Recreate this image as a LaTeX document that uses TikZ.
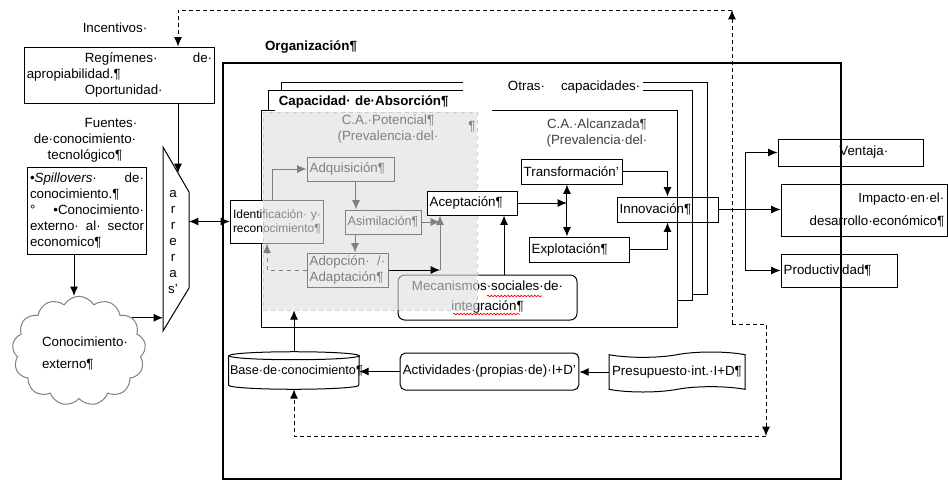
\documentclass[tikz,border=0pt]{standalone}
\usepackage{fontspec}
\setmainfont{Liberation Sans}
\usetikzlibrary{arrows.meta,shapes.symbols,decorations.pathmorphing}

\begin{document}
\begin{tikzpicture}[x=0.75pt, y=-0.75pt,
    every node/.style={font=\fontsize{10}{12}\selectfont, inner sep=2pt},
    caja/.style={draw, line width=.75pt},
    cajagris/.style={draw=gray, text=gray, line width=.75pt},
    flecha/.style={line width=.75pt, -{Latex[length=7pt,width=6pt]}},
    flechagris/.style={flecha, color=gray},
    dobleflecha/.style={line width=.75pt, {Latex[length=7pt,width=6pt]}-{Latex[length=7pt,width=6pt]}},
    subrayado/.style={red, line width=.5pt, decorate, decoration={snake, amplitude=.6pt, segment length=2.5pt}},
    punteada/.style={line width=.75pt, dash pattern=on 3pt off 2.25pt}]
    \useasboundingbox (0,0) rectangle (948,482);

    \node[caja, line width=1.5pt, minimum width=463.5pt, minimum height=312pt] (org) at (532,271) {};
    \node[font=\fontsize{10}{12}\selectfont\bfseries] (orgtxt) at (311,47) {Organización¶};

    \node[caja, fill=white, minimum width=319.5pt, minimum height=159pt] (hoja3) at (494,188) {};
    \node[caja, fill=white, minimum width=318pt, minimum height=157.5pt] (hoja2) at (480,195) {};
    \node[caja, fill=white, minimum width=312pt, minimum height=162.75pt] (hoja1) at (469,218.5) {};
    \node[fill=white, text width=131pt, align=right, inner ysep=1pt] (otras) at (553,87) {Otras·\hspace{12pt}capacidades·};
    \node[fill=white, font=\fontsize{10}{12}\selectfont\bfseries, text width=157pt, align=left, inner xsep=3pt, inner ysep=0pt, minimum height=15pt] (capacidad) at (383.5,102) {Capacidad· de·Absorción¶};

    \node[caja, fill=white, font=\fontsize{9}{10.5}\selectfont, text width=66pt, align=left, minimum height=32.25pt] (ident) at (277,221.5) {Identificación·\hfill y·\\reconocimiento¶};
    \node[caja, rounded corners=5pt, align=center, minimum width=134.25pt, minimum height=33.75pt] (mec) at (487.5,297.5) {Mecanismos·sociales·de·\\[3pt]integración¶};

    \node[draw=gray!40, dashed, fill=gray!25, fill opacity=.6, minimum width=160.5pt, minimum height=148.5pt] (potencial) at (370,211) {};
    \node[text=gray, align=center] (potencialtxt) at (388,129.5) {C.A.·Potencial¶\\(Prevalencia·del·};
    \node[text=gray] (marca) at (472,127) {¶};
    \draw[subrayado] (487,296) -- (542,296);
    \draw[subrayado] (453,314) -- (520,314);

    \node[cajagris, text width=61.25pt, align=left, minimum height=18pt] (adq) at (350.5,169) {Adquisición¶};
    \node[cajagris, font=\fontsize{9.5}{12}\selectfont, text width=53pt, align=left, minimum height=18pt] (asim) at (383,222) {Asimilación¶};
    \node[cajagris, text width=56.75pt, align=left, minimum height=25.5pt] (adop) at (347.5,270) {Adopción·\hfill/·\\Adaptación¶};

    \node[caja, fill=white, text width=63.5pt, align=left, minimum height=18pt] (acep) at (472,203) {Aceptación¶};
    \node[caja, text width=71.75pt, align=left, minimum height=18.75pt] (transf) at (571.5,171.5) {Transformación'};
    \node[caja, text width=71pt, align=left, minimum height=18.75pt] (explo) at (579,249.5) {Explotación¶};
    \node[caja, text width=71.75pt, align=left, minimum height=18.75pt] (innov) at (667.5,209.5) {Innovación¶};
    \node[text=black!75, align=center] (alcanzada) at (597,133) {C.A.·Alcanzada¶\\(Prevalencia·del·};

    \node (incentivos) at (115,28) {Incentivos·};
    \node[caja, text width=139pt, align=left, minimum height=42pt] (regimenes) at (119.5,75) {\hspace*{43.5pt}Regímenes·\hfill de·\\apropiabilidad.¶\\\hspace*{43.5pt}Oportunidad·};
    \node[align=center] (fuentes) at (85,140) {\hspace*{39pt}Fuentes·\\de·conocimiento·\\tecnológico¶};
    \node[caja, text width=85.5pt, align=left, minimum height=65.25pt] (spill) at (87,210.5) {•\textit{Spillovers}·\hfill de·\\conocimiento.¶\\°\hfill •Conocimiento·\\externo·\hfill al·\hfill sector\\economico¶};
    \node[cloud, draw=gray, line width=.75pt, cloud puffs=13, cloud puff arc=120, minimum width=100pt, minimum height=82pt] (nube) at (79,351) {};
    \node[align=left] (nubetxt) at (85,354) {Conocimiento·\\[4.5pt]externo¶};

    \draw[line width=.75pt] (163,147) -- (189,192) -- (189,288) -- (163,331) -- cycle;
    \coordinate (barN) at (178,173);
    \coordinate (barE) at (189,221.5);
    \coordinate (barW) at (163,240);
    \node[align=center] (barreras) at (173,242) {a\\r\\r\\e\\r\\a\\s'};

    \node[caja, text width=104.75pt, align=left, minimum height=20.25pt] (ventaja) at (850.5,152.5) {\hspace*{44pt}Ventaja·};
    \node[caja, text width=120.5pt, align=right, minimum height=39pt] (impacto) at (864,210) {Impacto·en·el·\\[5pt]desarrollo·económico¶};
    \node[caja, text width=83pt, align=left, minimum height=24.75pt] (produc) at (839,270.5) {Productividad¶};

    \node[font=\fontsize{9.5}{12}\selectfont, text width=96pt, align=left, inner xsep=.75pt, minimum height=21.75pt] (base) at (294,370.5) {Base·de·conocimiento¶};
    \draw[line width=.75pt] (base.north west) -- (base.south west) arc[start angle=180, end angle=360, x radius=48.75pt, y radius=3pt] -- (base.north east);
    \draw[line width=.75pt] (base.north) ellipse[x radius=48.75pt, y radius=3pt];
    \node[caja, rounded corners=4pt, text width=130pt, align=left, minimum height=27.75pt] (activ) at (489.5,371.5) {Actividades·(propias·de)·I+D'};
    \node[caja, tape, tape bend height=4pt, minimum width=102pt, minimum height=30pt] (presu) at (677,372) {Presupuesto·int.·I+D¶};

    \coordinate (dA) at (732,324);
    \coordinate (dTop) at (732,10);
    \coordinate (dB) at (766,436);
    \coordinate (junta) at (440,270);
    \coordinate (eje) at ([xshift=-3.4pt]transf.south);
    \coordinate (rama) at (745,209.5);

    \draw[punteada, flecha] (dA) -- (dTop);
    \draw[punteada, flecha] (dTop) -| (barN |- regimenes.north);
    \draw[punteada, flecha] (dA) -| (dB);
    \draw[punteada, flecha] (dB) -| ([yshift=-3pt]base.south);

    \draw[flecha] (barN |- regimenes.south) -- (barN);
    \draw[flecha] ([xshift=-9.75pt]spill.south) -- ([xshift=-9.75pt]spill.south |- nube.north);
    \draw[flecha] (nube.32) -- (nube.32 -| barW);
    \draw[dobleflecha] (barE) -- (ident.west);

    \draw[flechagris] ([xshift=-3.75pt]ident.north) |- (adq.west);
    \draw[flechagris] ([xshift=4.1pt]adq.south) -- ([xshift=4.1pt]adq.south |- asim.north);
    \draw[flechagris] ([xshift=-21pt]asim.south) -- ([xshift=-21pt]asim.south |- adop.north);
    \draw[flechagris] (asim.east) -- (asim.east -| junta);
    \draw[flechagris] (junta) -- (junta |- acep.south);
    \draw[flechagris, dashed] (adop.west) -| ([xshift=-7.5pt]ident.south);
    \draw[flecha] (adop.east) -- (junta);

    \draw[flecha] ([xshift=12.4pt]mec.north) -- ([xshift=12.4pt]mec.north |- acep.south);
    \draw[flecha] (acep.east) -- (acep.east -| eje);
    \draw[dobleflecha] (eje) -- (eje |- explo.north);
    \draw[flecha] (transf.east) -| (innov.north);
    \draw[flecha] (explo.east) -| (innov.south);
    \draw[line width=.75pt] (innov.east) -- (rama);
    \draw[flecha] (rama) |- (ventaja.west);
    \draw[flecha] (rama) -- (rama -| impacto.west);
    \draw[flecha] (rama) |- (produc.west);

    \draw[flecha] ([yshift=3pt]base.north) -- (base.north |- potencial.south);
    \draw[flecha] (activ.west) -- (activ.west -| base.east);
    \draw[flecha] (presu.west) -- (presu.west -| activ.east);
\end{tikzpicture}
\end{document}
